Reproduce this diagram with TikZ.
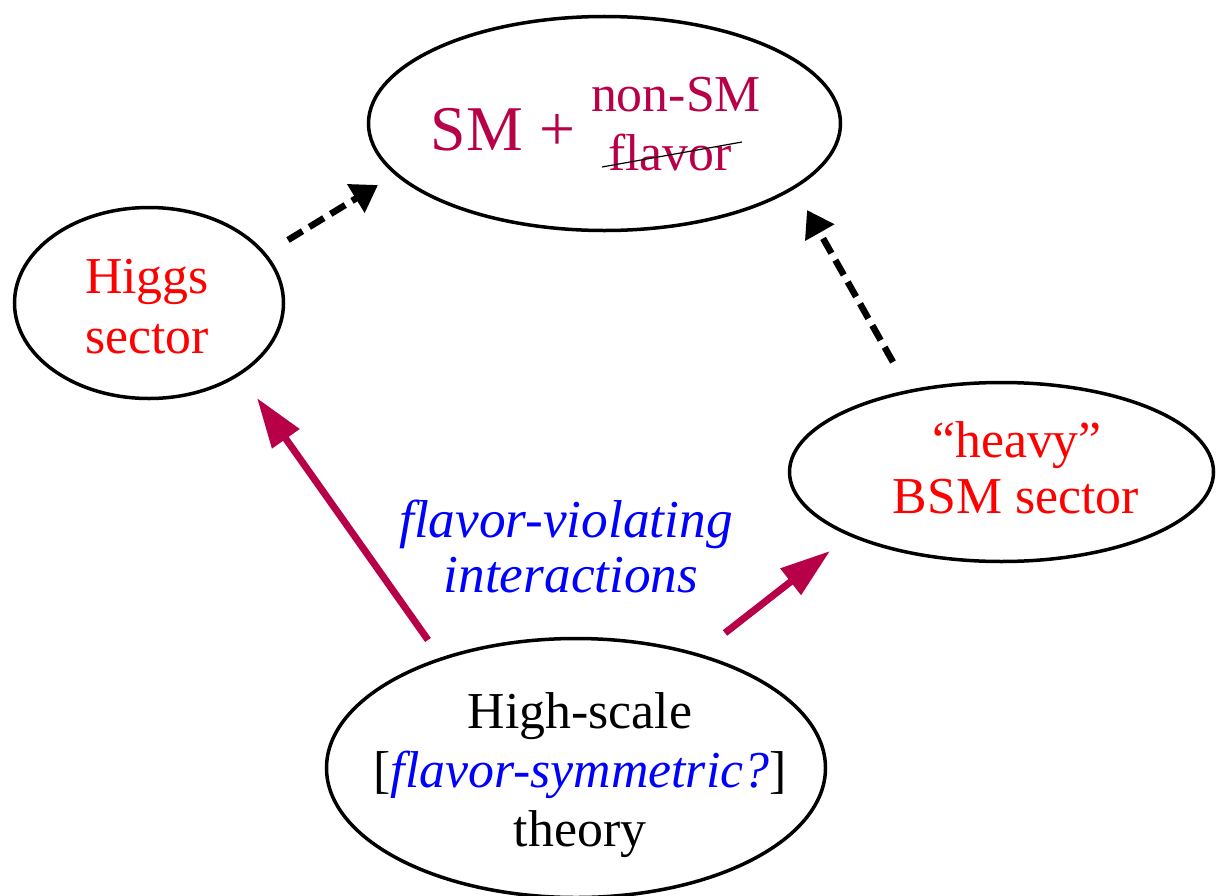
\documentclass[tikz,border=0pt]{standalone}
\usepackage{fontspec}
\setmainfont{Liberation Serif}
\usetikzlibrary{shapes.geometric,arrows.meta}
\definecolor{crimson}{RGB}{184,0,72}
\definecolor{hred}{RGB}{255,0,0}
\definecolor{hblue}{RGB}{0,0,255}
\tikzset{
  oval/.style={ellipse,draw=black,line width=3.5bp,inner sep=0pt,fill=none},
  lbl/.style={inner sep=0pt,anchor=base,font=\fontsize{52}{59}\selectfont},
  itlbl/.style={inner sep=0pt,anchor=base,text=hblue,font=\fontsize{53.5}{59}\selectfont\itshape},
  bigl/.style={inner sep=0pt,anchor=base,font=\fontsize{64}{72}\selectfont},
  feed/.style={draw=crimson,line width=7bp,-{Triangle[length=50bp,width=32bp]}},
  flow/.style={draw=black,line width=6.5bp,dash pattern=on 17bp off 8bp,-{Triangle[length=26bp,width=32bp]}}
}
\begin{document}
\begin{tikzpicture}[x=1bp,y=-1bp]
\useasboundingbox (0,0) rectangle (1217,896);

% ovals
\node[oval,minimum width=472bp,minimum height=214bp] (sm) at (604.5,123.5) {};
\node[oval,minimum width=269bp,minimum height=191bp] (higgs) at (149,303) {};
\node[oval,minimum width=424bp,minimum height=179bp] (bsm) at (1001.5,472) {};
\node[oval,minimum width=499bp,minimum height=259bp] (high) at (576,768) {};

% top oval text
\node[bigl,text=crimson] (smplus) at (503,150) {SM +};
\node[lbl,text=crimson] (nonsm) at (676,111) {non-SM};
\node[lbl,text=crimson] (flav) at (670,170) {flavor};
\coordinate (strikeA) at (602,167);
\coordinate (strikeB) at (742,142);
\draw[black,line width=1.2bp] (strikeA) -- (strikeB);

% Higgs sector
\node[lbl,text=hred] (higgs1) at (147,293) {Higgs};
\node[lbl,text=hred] (higgs2) at (147,353) {sector};

% heavy BSM sector
\node[lbl,text=hred] (bsm1) at (1017,457) {“heavy”};
\node[lbl,text=hred] (bsm2) at (1016,513) {BSM sector};

% flavor-violating interactions
\node[itlbl] (fv1) at (566,537) {flavor-violating};
\node[itlbl] (fv2) at (571,592) {interactions};

% high-scale theory
\node[lbl] (hs1) at (580,728) {High-scale};
\node[lbl] (hs2) at (580,787) {[\textcolor{hblue}{\itshape flavor-symmetric?}]};
\node[lbl] (hs3) at (580,846) {theory};

% connector end points
\coordinate (a1s) at (428,640);
\coordinate (a1e) at (257,398);
\coordinate (a2s) at (725,633);
\coordinate (a2e) at (830,551);
\coordinate (d1s) at (288,240);
\coordinate (d1e) at (378,185);
\coordinate (d2s) at (893,362);
\coordinate (d2e) at (807,210);

\draw[feed] (a1s) -- (a1e);
\draw[feed] (a2s) -- (a2e);
\draw[flow] (d1s) -- (d1e);
\draw[flow] (d2s) -- (d2e);
\end{tikzpicture}
\end{document}
